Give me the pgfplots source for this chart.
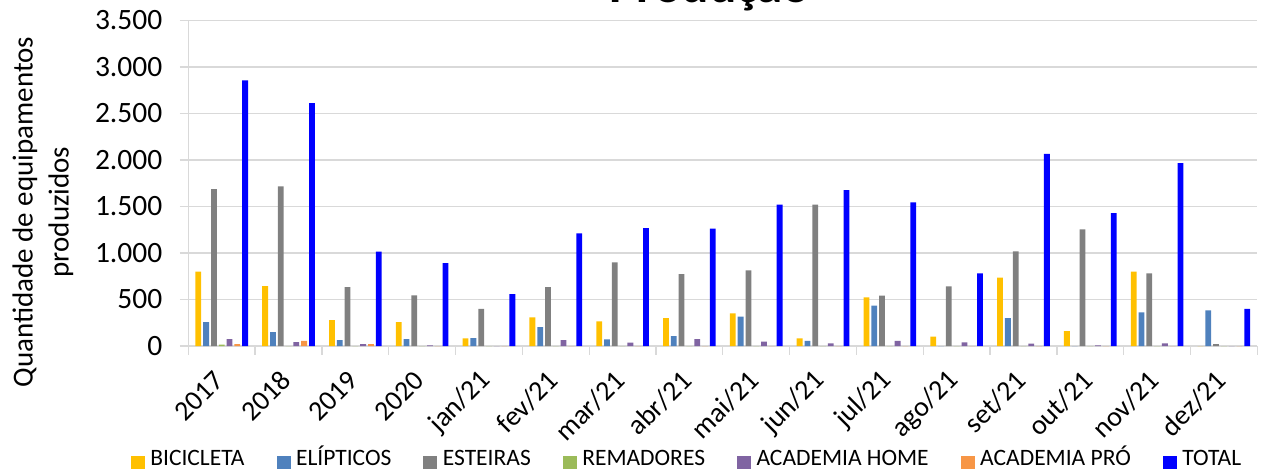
\documentclass[border=0pt]{standalone}
\usepackage{fontspec}
\setmainfont{Carlito}
\usepackage{pgfplots}
\usepackage{pgfplotstable}
\pgfplotsset{compat=1.18}
\definecolor{cbic}{HTML}{FFC000}
\definecolor{celi}{HTML}{4F81BD}
\definecolor{cest}{HTML}{808080}
\definecolor{crem}{HTML}{9BBB59}
\definecolor{cah}{HTML}{8064A2}
\definecolor{cap}{HTML}{F79646}
\definecolor{ctot}{HTML}{0000FF}
\definecolor{gridgray}{HTML}{D9D9D9}
\pgfplotstableread{
x bic eli est rem ah ap tot
0 800 258 1687 15 75 20 2855
1 645 150 1716 0 43 54 2611
2 279 64 634 0 21 20 1014
3 258 75 544 0 8 0 892
4 82 86 398 0 0 0 559
5 308 204 634 0 64 0 1211
6 265 72 899 0 36 0 1268
7 301 107 774 0 75 0 1261
8 351 315 813 0 47 0 1519
9 82 54 1519 0 29 0 1676
10 523 433 541 0 54 0 1544
11 100 0 641 0 39 0 781
12 734 301 1017 0 25 0 2067
13 161 0 1254 0 7 0 1429
14 799 362 781 0 29 0 1966
15 0 383 20 0 0 0 398
}\datatable
\begin{document}
\begin{tikzpicture}
\begin{axis}[
  at={(188.3pt,129pt)}, anchor=south west,
  scale only axis, width=1069pt, height=325.5pt,
  ybar=2pt, bar width=5.8pt,
  xmin=-0.5, xmax=15.5, ymin=0, ymax=3500,
  xtick={-0.5,0.5,1.5,2.5,3.5,4.5,5.5,6.5,7.5,8.5,9.5,10.5,11.5,12.5,13.5,14.5,15.5},
  xticklabels={2017,2018,2019,2020,jan/21,fev/21,mar/21,abr/21,mai/21,jun/21,jul/21,ago/21,set/21,out/21,nov/21,dez/21,{}},
  ytick={0,500,1000,1500,2000,2500,3000,3500},
  ymajorgrids, grid style={draw=gridgray, line width=1.3pt},
  axis x line*=bottom, axis y line*=left,
  axis line style={draw=gridgray, line width=1.3pt},
  tick align=outside, major tick length=8.5pt,
  tick style={draw=gridgray, line width=1.3pt},
  scaled y ticks=false,
  /pgf/number format/assume math mode=true,
  /pgf/number format/1000 sep={.},
  yticklabel style={font=\fontsize{29.5}{32}\selectfont, xshift=-14pt},
  xticklabel style={font=\fontsize{28}{30}\selectfont, xshift=33.4pt, yshift=-19pt, rotate=45, anchor=east},
  legend style={at={(0.4665,-0.3594)}, anchor=center, draw=none, fill=none,
    legend columns=7, font=\fontsize{23.5}{26}\selectfont,
    nodes={text height=0.72em, text depth=0.2em, inner ysep=0pt},
    /tikz/every even column/.append style={column sep=30pt}},
  legend image code/.code={\fill[#1] (0pt,-6.5pt) rectangle (14pt,6.5pt); \path (17.5pt,0pt);},
  clip=false,
]
\addplot[fill=cbic, draw=none] table[x=x, y=bic] {\datatable};
\addplot[fill=celi, draw=none] table[x=x, y=eli] {\datatable};
\addplot[fill=cest, draw=none] table[x=x, y=est] {\datatable};
\addplot[fill=crem, draw=none] table[x=x, y=rem] {\datatable};
\addplot[fill=cah, draw=none] table[x=x, y=ah] {\datatable};
\addplot[fill=cap, draw=none] table[x=x, y=ap] {\datatable};
\addplot[fill=ctot, draw=none] table[x=x, y=tot] {\datatable};
\legend{BICICLETA, ELÍPTICOS, ESTEIRAS, REMADORES, ACADEMIA HOME, ACADEMIA PRÓ, TOTAL}
\end{axis}
\node[rotate=90, align=center, font=\fontsize{29}{36}\selectfont] at (43pt,263pt) {Quantidade de equipamentos\\produzidos};
\node[anchor=base, font=\bfseries\fontsize{51}{60}\selectfont] at (710pt,472pt) {Produção};
\pgfresetboundingbox
\useasboundingbox (0pt,0pt) rectangle (1262pt,475pt);
\end{tikzpicture}
\end{document}
